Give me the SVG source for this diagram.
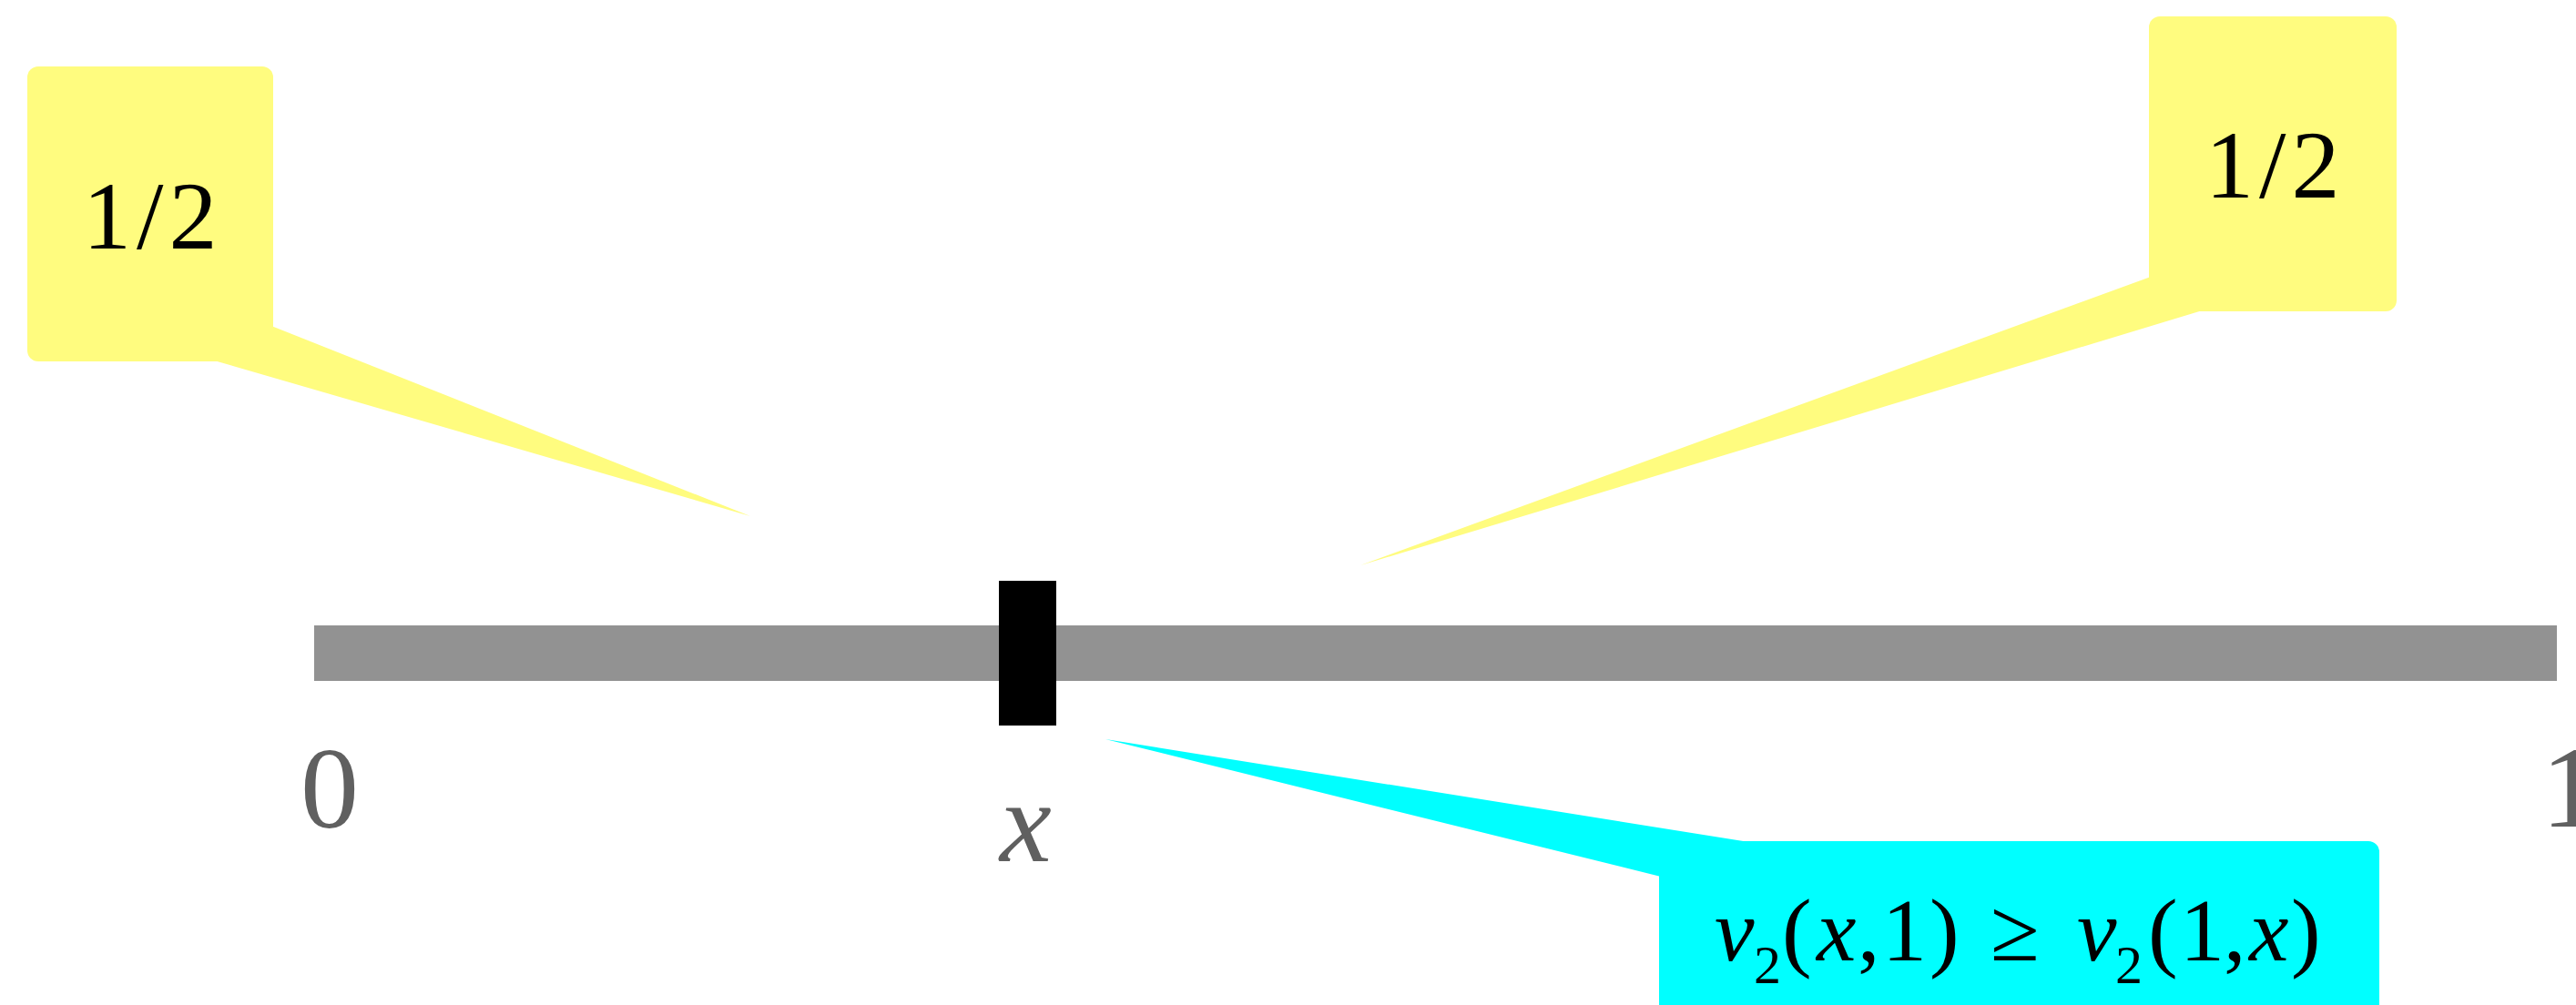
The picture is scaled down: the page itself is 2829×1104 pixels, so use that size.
<svg xmlns="http://www.w3.org/2000/svg" width="2829" height="1104" viewBox="0 0 2829 1104">
  <style>
    .yel { fill: #FFFC7F; }
    .cyan { fill: #00FFFF; }
    .t { font-family: "Liberation Serif", "Times New Roman", serif; fill: #000000; }
    .lbl { font-family: "Liberation Serif", "Times New Roman", serif; fill: #606060; font-size: 128px; }
    .half { font-size: 106px; letter-spacing: 6px; }
    .eq { font-size: 98px; }
    .sub { font-size: 60px; }
    .it { font-style: italic; }
  </style>
  <rect width="2829" height="1104" fill="#FFFFFF"/>

  <g id="axis">
    <rect x="345" y="687" width="2463" height="61" fill="#929292"/>
  </g>

  <g id="marker">
    <rect x="1097" y="638" width="63" height="159" fill="#000000"/>
  </g>

  <g id="axis-labels">
    <text class="lbl" x="330" y="909">0</text>
    <text class="lbl it" x="1098" y="946" font-size="130">x</text>
    <text class="lbl" x="2791" y="908">1</text>
  </g>

  <g id="callout-left">
    <polygon class="yel" points="298,358 824,567 235,396"/>
    <rect class="yel" x="30" y="73" width="270" height="324" rx="12" ry="12"/>
    <text class="t half" x="91" y="273">1/2</text>
  </g>

  <g id="callout-right">
    <polygon class="yel" points="2362,304 1494,621 2422,340"/>
    <rect class="yel" x="2360" y="18" width="272" height="324" rx="12" ry="12"/>
    <text class="t half" x="2422" y="217">1/2</text>
  </g>

  <g id="callout-cyan">
    <polygon class="cyan" points="1214,812 1927,926 1824,963"/>
    <rect class="cyan" x="1822" y="924" width="791" height="200" rx="12" ry="12"/>
    <text class="t eq" y="1055"><tspan class="it" x="1883">v</tspan><tspan class="sub" x="1926" y="1080">2</tspan><tspan x="1957" y="1055">(</tspan><tspan class="it" x="1995">x</tspan><tspan x="2040">,</tspan><tspan x="2067">1</tspan><tspan x="2119">)</tspan><tspan x="2186">≥</tspan><tspan class="it" x="2281">v</tspan><tspan class="sub" x="2323" y="1080">2</tspan><tspan x="2359" y="1055">(</tspan><tspan x="2394">1</tspan><tspan x="2442">,</tspan><tspan class="it" x="2470">x</tspan><tspan x="2516">)</tspan></text>
  </g>
</svg>
